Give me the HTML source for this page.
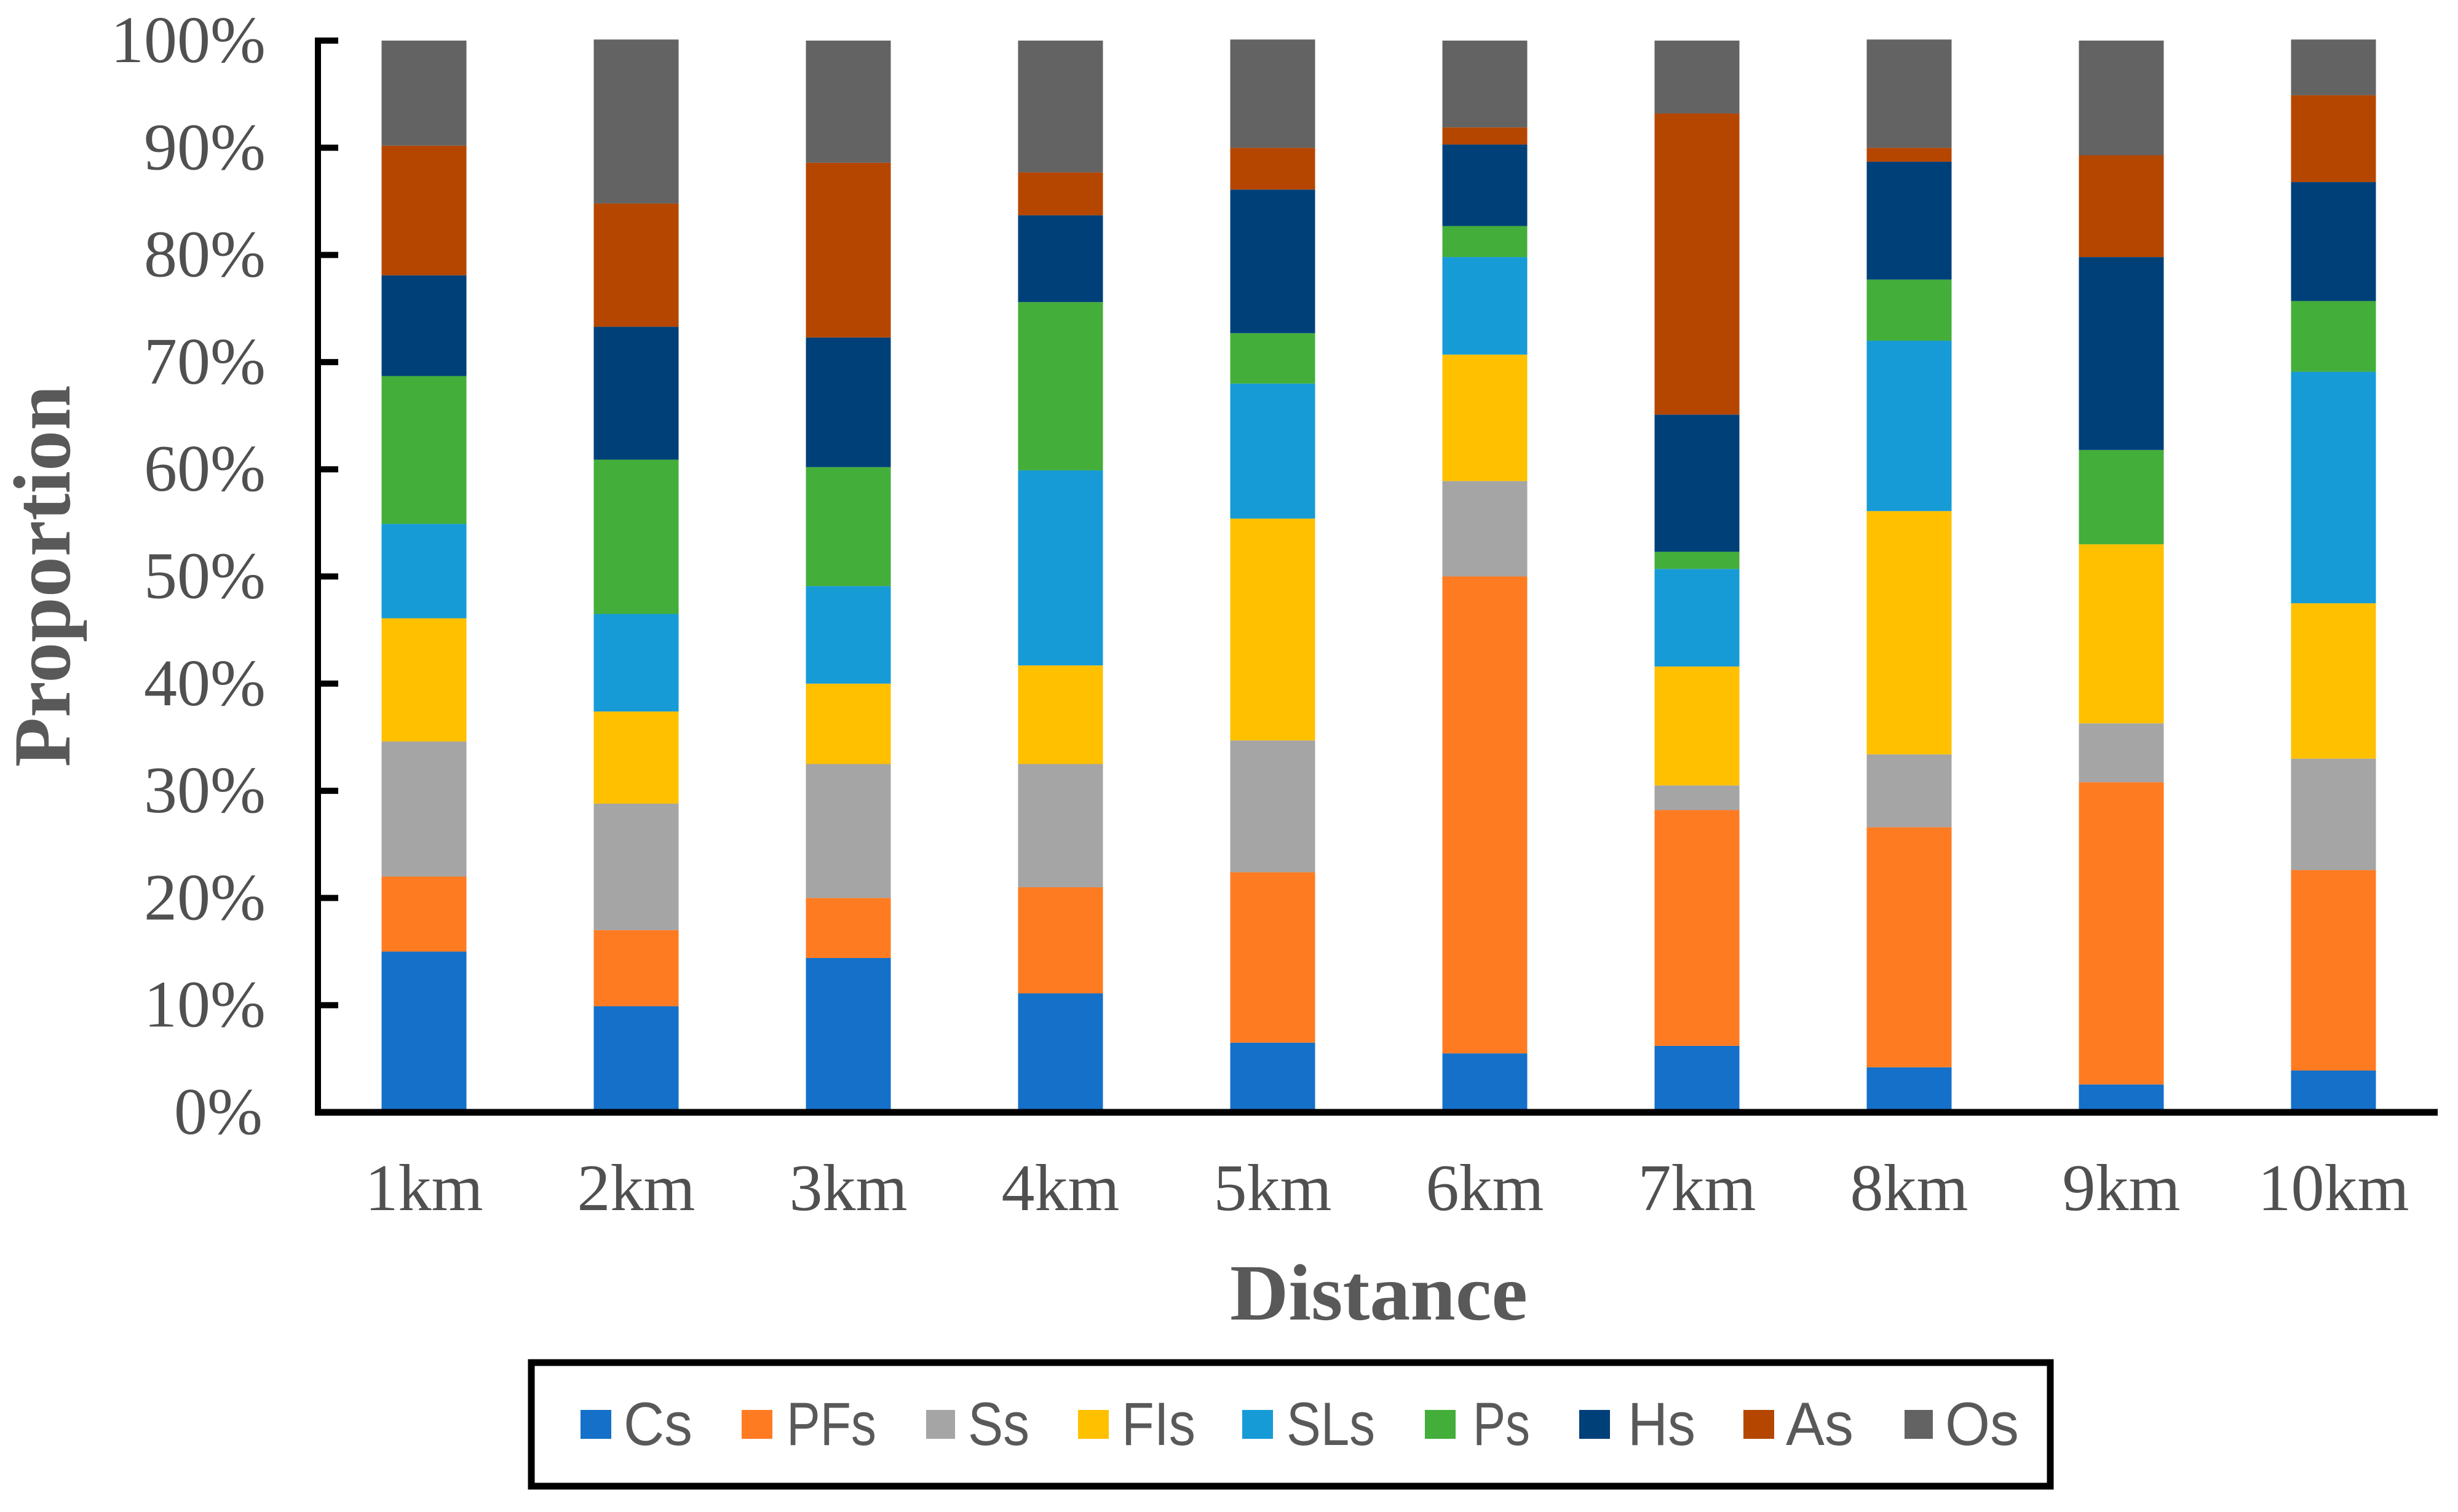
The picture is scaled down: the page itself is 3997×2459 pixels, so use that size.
<!DOCTYPE html>
<html lang="en">
<head>
<meta charset="utf-8">
<title>Proportion by distance</title>
<style>
html,body{margin:0;padding:0;background:#fff;width:3997px;height:2459px;overflow:hidden}
svg{display:block}
.serif{font-family:"Liberation Serif",serif}
.sans{font-family:"Liberation Sans",sans-serif}
</style>
</head>
<body>
<svg id="chart" xmlns="http://www.w3.org/2000/svg" width="3997" height="2459" viewBox="0 0 3997 2459">
  <rect x="0" y="0" width="3997" height="2459" fill="#fff"/>
  <g id="bars"></g>
  <g id="axes"></g>
  <text class="serif" font-weight="700" font-size="132" fill="#595959" text-anchor="middle" transform="translate(113 937) rotate(-90)">Proportion</text>
  <text class="serif" font-weight="700" font-size="130" fill="#595959" x="2000" y="2146" textLength="484" lengthAdjust="spacingAndGlyphs">Distance</text>
  <g>
    <rect x="864" y="2216" width="2470" height="201" fill="#fff" stroke="#000" stroke-width="11"/>
    <g class="sans" font-size="99" fill="#595959">
      <g><rect x="944" y="2293" width="50" height="47" fill="#1470C8"/><text x="1014" y="2350" textLength="112" lengthAdjust="spacingAndGlyphs">Cs</text></g>
      <g><rect x="1206" y="2293" width="50" height="47" fill="#FF7B22"/><text x="1279" y="2350" textLength="146" lengthAdjust="spacingAndGlyphs">PFs</text></g>
      <g><rect x="1506" y="2293" width="47" height="47" fill="#A5A5A5"/><text x="1574" y="2350" textLength="100" lengthAdjust="spacingAndGlyphs">Ss</text></g>
      <g><rect x="1753" y="2293" width="50" height="47" fill="#FFC000"/><text x="1824" y="2350" textLength="120" lengthAdjust="spacingAndGlyphs">FIs</text></g>
      <g><rect x="2020" y="2293" width="50" height="47" fill="#169BD7"/><text x="2092" y="2350" textLength="144" lengthAdjust="spacingAndGlyphs">SLs</text></g>
      <g><rect x="2317" y="2293" width="50" height="47" fill="#44AE3A"/><text x="2395" y="2350" textLength="93" lengthAdjust="spacingAndGlyphs">Ps</text></g>
      <g><rect x="2568" y="2293" width="50" height="47" fill="#004079"/><text x="2647" y="2350" textLength="110" lengthAdjust="spacingAndGlyphs">Hs</text></g>
      <g><rect x="2835" y="2293" width="50" height="47" fill="#B54600"/><text x="2904" y="2350" textLength="110" lengthAdjust="spacingAndGlyphs">As</text></g>
      <g><rect x="3097" y="2293" width="46" height="47" fill="#636363"/><text x="3163" y="2350" textLength="120" lengthAdjust="spacingAndGlyphs">Os</text></g>
    </g>
  </g>
</svg>
<script>
const categories = ['1km','2km','3km','4km','5km','6km','7km','8km','9km','10km'];
const seriesNames = ['Cs','PFs','Ss','FIs','SLs','Ps','Hs','As','Os'];
const seriesColors = ['#1470C8','#FF7B22','#A5A5A5','#FFC000','#169BD7','#44AE3A','#004079','#B54600','#636363'];
const cs  = [15.0, 9.9,14.4,11.1, 6.5, 5.5, 6.2, 4.2, 2.6, 3.9];
const pfs = [ 7.0, 7.1, 5.6, 9.9,15.9,44.5,22.0,22.4,28.2,18.7];
const ss  = [12.6,11.8,12.5,11.5,12.3, 8.9, 2.3, 6.8, 5.5,10.4];
const fis = [11.5, 8.6, 7.5, 9.2,20.7,11.8,11.1,22.7,16.7,14.5];
const sls = [ 8.8, 9.1, 9.1,18.2,12.6, 9.1, 9.1,15.9, 0.0,21.6];
const ps  = [13.8,14.4,11.1,15.7, 4.7, 2.9, 1.6, 5.7, 8.8, 6.6];
const hs  = [ 9.4,12.4,12.1, 8.1, 13.4, 7.6,12.8,11.0,18.0,11.1];
const asv = [12.1,11.5,16.3, 4.0, 3.9, 1.6,28.1, 1.3, 9.5, 8.1];
const os  = [ 9.8,15.3,11.4,12.3,10.1, 8.1, 6.8,10.1,10.7, 5.2];
const seriesValues = [cs,pfs,ss,fis,sls,ps,hs,asv,os];
const yTickValues = [0,10,20,30,40,50,60,70,80,90,100];
const yTickLabels = ['0%','10%','20%','30%','40%','50%','60%','70%','80%','90%','100%'];

const NS = 'http://www.w3.org/2000/svg';
const plot = {axisX:517, top:66, bottom:1809, right:3964, firstCenter:689.5, step:345, barWidth:138};
function yScale(v){ return plot.bottom - (v/100)*(plot.bottom-plot.top); }
function xScale(i){ return plot.firstCenter + i*plot.step; }
function make(tag, attrs){
  const el = document.createElementNS(NS, tag);
  for (const k in attrs) el.setAttribute(k, attrs[k]);
  return el;
}

const barsG = document.getElementById('bars');
categories.forEach(function(cat, i){
  let cum = 0;
  seriesValues.forEach(function(vals, s){
    const v = vals[i];
    if (v > 0) {
      const y1 = yScale(cum + v), y0 = yScale(cum);
      const r = make('rect', {x:xScale(i)-plot.barWidth/2, y:y1, width:plot.barWidth, height:y0-y1, fill:seriesColors[s]});
      
      
      barsG.appendChild(r);
    }
    cum += v;
  });
});

const axesG = document.getElementById('axes');
const yAxis = make('line', {x1:plot.axisX, x2:plot.axisX, y1:plot.top-5, y2:plot.bottom+5, stroke:'#000', 'stroke-width':10});


axesG.appendChild(yAxis);
const xAxis = make('line', {x1:plot.axisX-5, x2:plot.right, y1:plot.bottom, y2:plot.bottom, stroke:'#000', 'stroke-width':11});


axesG.appendChild(xAxis);

yTickValues.forEach(function(v, i){
  const y = yScale(v);
  if (v > 0) {
    const t = make('line', {x1:plot.axisX, x2:plot.axisX+33, y1:y, y2:y, stroke:'#000', 'stroke-width':10});
    
    
    axesG.appendChild(t);
  }
  const l = make('text', {x:v === 0 ? 427 : 432, y:y+35, 'text-anchor':'end', 'font-size':108, fill:'#505050', 'class':'serif'});
  
  
  l.textContent = yTickLabels[i];
  axesG.appendChild(l);
});

categories.forEach(function(cat, i){
  const l = make('text', {x:xScale(i), y:1968, 'text-anchor':'middle', 'font-size':108, fill:'#505050', 'class':'serif'});
  
  
  l.textContent = cat;
  axesG.appendChild(l);
});
</script>
</body>
</html>
